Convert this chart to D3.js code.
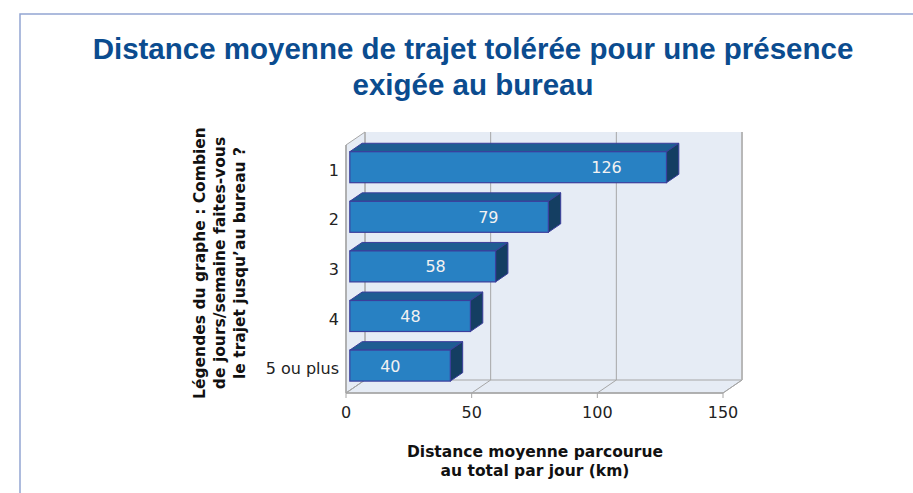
<!DOCTYPE html>
<html>
<head>
<meta charset="utf-8">
<script src="https://cdn.jsdelivr.net/npm/d3@7"></script>
<style>
body { margin: 0; background: #fff; }
svg { display: block; }
</style>
</head>
<body>
<svg class="chart" width="913" height="493"></svg>
<script>
// data
var categories = ["1", "2", "3", "4", "5 ou plus"];
var distances = [126, 79, 58, 48, 40];
var xTicks = [0, 50, 100, 150];
var titleLines = ["Distance moyenne de trajet tolérée pour une présence", "exigée au bureau"];
var yTitleLines = ["Légendes du graphe : Combien", "de jours/semaine faites-vous", "le trajet jusqu\u2019au bureau ?"];
var xTitleLines = ["Distance moyenne parcourue", "au total par jour (km)"];

var svg = d3.select("svg.chart");
var labelFont = "DejaVu Sans, Verdana, sans-serif";

// frame around the slide
svg.append("rect")
    .attr("x", 20).attr("y", 14)
    .attr("width", 920).attr("height", 500)
    .attr("fill", "none")
    .attr("stroke", "#93A5D2")
    .attr("stroke-width", 1.5);

// front plane scales; depth is drawn as an offset up and right
var x = d3.scaleLinear().domain([0, 150]).range([346, 723]);
var y = d3.scaleBand().domain(categories).range([145, 393])
    .paddingInner(0.375).paddingOuter(0.1875);
var depth = {dx: 19, dy: -13};
var f0 = 0.2, f1 = 0.85;   // where the bars sit inside the depth

var top0 = y.range()[0], bot = y.range()[1];
var xMin = x(0), xMax = x(150);

function pts(arr) { return arr.map(function(p){ return p.join(","); }).join(" "); }

var walls = svg.append("g").attr("class", "walls");
// back wall
walls.append("rect")
    .attr("x", xMin + depth.dx).attr("y", top0 + depth.dy)
    .attr("width", xMax - xMin).attr("height", bot - top0)
    .attr("fill", "#E6ECF5");
// left wall
walls.append("polygon")
    .attr("points", pts([[xMin, top0], [xMin + depth.dx, top0 + depth.dy], [xMin + depth.dx, bot + depth.dy], [xMin, bot]]))
    .attr("fill", "#E6ECF5").attr("stroke", "#A6A6A6").attr("stroke-width", 1);
// floor
walls.append("polygon")
    .attr("points", pts([[xMin, bot], [xMin + depth.dx, bot + depth.dy], [xMax + depth.dx, bot + depth.dy], [xMax, bot]]))
    .attr("fill", "#E6ECF5").attr("stroke", "#A6A6A6").attr("stroke-width", 1);

// gridlines on the back wall and across the floor
walls.selectAll("line.grid")
    .data(xTicks)
    .enter().append("line")
    .attr("class", "grid")
    .attr("x1", function(d){ return x(d) + depth.dx; })
    .attr("x2", function(d){ return x(d) + depth.dx; })
    .attr("y1", top0 + depth.dy)
    .attr("y2", bot + depth.dy)
    .attr("stroke", function(d){ return d === 150 ? "#B8B8B8" : "#A6A6A6"; })
    .attr("stroke-width", function(d){ return d === 150 ? 2 : 1; });
walls.selectAll("line.floor")
    .data(xTicks)
    .enter().append("line")
    .attr("class", "floor")
    .attr("x1", function(d){ return x(d); })
    .attr("x2", function(d){ return x(d) + depth.dx; })
    .attr("y1", bot)
    .attr("y2", bot + depth.dy)
    .attr("stroke", "#A6A6A6");
// front axis line + ticks
walls.append("line")
    .attr("x1", xMin).attr("x2", xMax).attr("y1", bot).attr("y2", bot)
    .attr("stroke", "#A6A6A6").attr("stroke-width", 1.5);
walls.append("line")
    .attr("x1", xMin).attr("x2", xMin).attr("y1", top0).attr("y2", bot)
    .attr("stroke", "#A6A6A6").attr("stroke-width", 1.5);
walls.selectAll("line.tick")
    .data(xTicks)
    .enter().append("line")
    .attr("class", "tick")
    .attr("x1", function(d){ return x(d); })
    .attr("x2", function(d){ return x(d); })
    .attr("y1", bot).attr("y2", bot + 5)
    .attr("stroke", "#A6A6A6");

// x tick labels
svg.append("g").selectAll("text")
    .data(xTicks)
    .enter().append("text")
    .attr("x", function(d){ return x(d); })
    .attr("y", bot + 25)
    .attr("text-anchor", "middle")
    .attr("font-family", labelFont)
    .attr("font-size", 16)
    .attr("fill", "#222")
    .text(function(d){ return d; });

// category labels
svg.append("g").selectAll("text")
    .data(categories)
    .enter().append("text")
    .attr("x", xMin - 7)
    .attr("y", function(d){ return y(d) + y.bandwidth() / 2 + 6; })
    .attr("text-anchor", "end")
    .attr("font-family", labelFont)
    .attr("font-size", 16)
    .attr("fill", "#222")
    .text(function(d){ return d; });

// 3D bars
var bars = svg.append("g").attr("class", "bars")
    .selectAll("g")
    .data(categories.map(function(c, i){ return {cat: c, value: distances[i]}; }))
    .enter().append("g");

function face(d) {
    var ox = f0 * depth.dx, oy = f0 * depth.dy;
    var bx = (f1 - f0) * depth.dx, by = (f1 - f0) * depth.dy;
    var xl = x(0) + ox, xr = x(d.value) + ox;
    var yt = y(d.cat) + oy, yb = yt + y.bandwidth();
    return {xl: xl, xr: xr, yt: yt, yb: yb, bx: bx, by: by};
}

bars.append("polygon")
    .attr("points", function(d){
        var f = face(d);
        return pts([[f.xl, f.yt], [f.xl + f.bx, f.yt + f.by], [f.xr + f.bx, f.yt + f.by], [f.xr, f.yt]]);
    })
    .attr("fill", "#1E5D92").attr("stroke", "#3B3E9C").attr("stroke-width", 1);
bars.append("polygon")
    .attr("points", function(d){
        var f = face(d);
        return pts([[f.xr, f.yt], [f.xr + f.bx, f.yt + f.by], [f.xr + f.bx, f.yb + f.by], [f.xr, f.yb]]);
    })
    .attr("fill", "#143E62").attr("stroke", "#3B3E9C").attr("stroke-width", 1);
bars.append("rect")
    .attr("x", function(d){ return face(d).xl; })
    .attr("y", function(d){ return face(d).yt; })
    .attr("width", function(d){ var f = face(d); return f.xr - f.xl; })
    .attr("height", y.bandwidth())
    .attr("fill", "#2881C3").attr("stroke", "#3B3E9C").attr("stroke-width", 1.2);
bars.append("text")
    .attr("x", function(d){ return face(d).xr - 60; })
    .attr("y", function(d){ var f = face(d); return (f.yt + f.yb) / 2 + 6; })
    .attr("text-anchor", "middle")
    .attr("font-family", labelFont)
    .attr("font-size", 16)
    .attr("fill", "#F2F2F2")
    .text(function(d){ return d.value; });

// title
svg.append("g").selectAll("text")
    .data(titleLines)
    .enter().append("text")
    .attr("x", 473)
    .attr("y", function(d, i){ return 59 + i * 36; })
    .attr("text-anchor", "middle")
    .attr("font-family", "Liberation Sans, Arial, sans-serif")
    .attr("font-weight", "bold")
    .attr("font-size", 29.5)
    .attr("fill", "#0B4C8F")
    .text(function(d){ return d; });

// rotated y axis title
svg.append("g")
    .attr("transform", "translate(0,263) rotate(-90)")
    .selectAll("text")
    .data(yTitleLines)
    .enter().append("text")
    .attr("x", 0)
    .attr("y", function(d, i){ return 205 + i * 20; })
    .attr("text-anchor", "middle")
    .attr("font-family", labelFont)
    .attr("font-weight", "bold")
    .attr("font-size", 15.5)
    .attr("fill", "#111")
    .text(function(d){ return d; });

// x axis title
svg.append("g").selectAll("text")
    .data(xTitleLines)
    .enter().append("text")
    .attr("x", 535)
    .attr("y", function(d, i){ return 457 + i * 18.5; })
    .attr("text-anchor", "middle")
    .attr("font-family", labelFont)
    .attr("font-weight", "bold")
    .attr("font-size", 15.5)
    .attr("fill", "#111")
    .text(function(d){ return d; });
</script>
</body>
</html>
